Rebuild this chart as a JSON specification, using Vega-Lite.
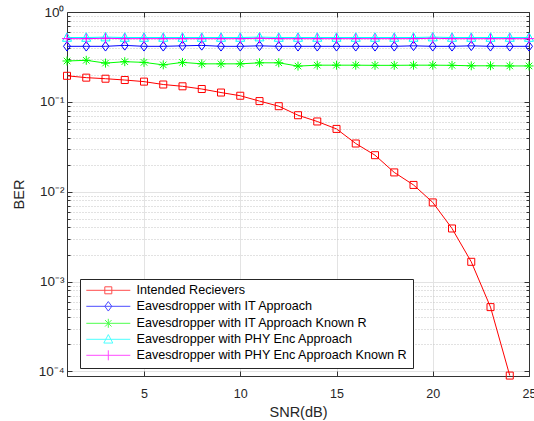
{
  "$schema": "https://vega.github.io/schema/vega-lite/v6.json",
  "width": 462,
  "height": 364,
  "autosize": "none",
  "padding": {"left": 67, "top": 12, "right": 5, "bottom": 45},
  "background": "white",
  "config": {
    "font": "Liberation Sans",
    "view": {"stroke": null},
    "axis": {"domainColor": "#333333", "tickColor": "#333333", "labelColor": "#262626", "titleColor": "#262626", "labelFontSize": 12.5, "titleFontSize": 14.5, "titleFontWeight": "normal", "tickWidth": 1, "domainWidth": 1}
  },
  "data": {
    "values": [
      {"snr": 1, "ber": 0.195, "series": "Intended Recievers"},
      {"snr": 2, "ber": 0.186, "series": "Intended Recievers"},
      {"snr": 3, "ber": 0.181, "series": "Intended Recievers"},
      {"snr": 4, "ber": 0.175, "series": "Intended Recievers"},
      {"snr": 5, "ber": 0.168, "series": "Intended Recievers"},
      {"snr": 6, "ber": 0.156, "series": "Intended Recievers"},
      {"snr": 7, "ber": 0.149, "series": "Intended Recievers"},
      {"snr": 8, "ber": 0.139, "series": "Intended Recievers"},
      {"snr": 9, "ber": 0.127, "series": "Intended Recievers"},
      {"snr": 10, "ber": 0.117, "series": "Intended Recievers"},
      {"snr": 11, "ber": 0.102, "series": "Intended Recievers"},
      {"snr": 12, "ber": 0.0895, "series": "Intended Recievers"},
      {"snr": 13, "ber": 0.071, "series": "Intended Recievers"},
      {"snr": 14, "ber": 0.0605, "series": "Intended Recievers"},
      {"snr": 15, "ber": 0.05, "series": "Intended Recievers"},
      {"snr": 16, "ber": 0.0344, "series": "Intended Recievers"},
      {"snr": 17, "ber": 0.0255, "series": "Intended Recievers"},
      {"snr": 18, "ber": 0.0164, "series": "Intended Recievers"},
      {"snr": 19, "ber": 0.0119, "series": "Intended Recievers"},
      {"snr": 20, "ber": 0.0076, "series": "Intended Recievers"},
      {"snr": 21, "ber": 0.0039, "series": "Intended Recievers"},
      {"snr": 22, "ber": 0.00166, "series": "Intended Recievers"},
      {"snr": 23, "ber": 0.00052, "series": "Intended Recievers"},
      {"snr": 24, "ber": 0.00009, "series": "Intended Recievers"},
      {"snr": 1, "ber": 0.415, "series": "Eavesdropper with IT Approach"},
      {"snr": 2, "ber": 0.415, "series": "Eavesdropper with IT Approach"},
      {"snr": 3, "ber": 0.415, "series": "Eavesdropper with IT Approach"},
      {"snr": 4, "ber": 0.425, "series": "Eavesdropper with IT Approach"},
      {"snr": 5, "ber": 0.415, "series": "Eavesdropper with IT Approach"},
      {"snr": 6, "ber": 0.415, "series": "Eavesdropper with IT Approach"},
      {"snr": 7, "ber": 0.42, "series": "Eavesdropper with IT Approach"},
      {"snr": 8, "ber": 0.425, "series": "Eavesdropper with IT Approach"},
      {"snr": 9, "ber": 0.415, "series": "Eavesdropper with IT Approach"},
      {"snr": 10, "ber": 0.415, "series": "Eavesdropper with IT Approach"},
      {"snr": 11, "ber": 0.42, "series": "Eavesdropper with IT Approach"},
      {"snr": 12, "ber": 0.415, "series": "Eavesdropper with IT Approach"},
      {"snr": 13, "ber": 0.415, "series": "Eavesdropper with IT Approach"},
      {"snr": 14, "ber": 0.415, "series": "Eavesdropper with IT Approach"},
      {"snr": 15, "ber": 0.415, "series": "Eavesdropper with IT Approach"},
      {"snr": 16, "ber": 0.415, "series": "Eavesdropper with IT Approach"},
      {"snr": 17, "ber": 0.415, "series": "Eavesdropper with IT Approach"},
      {"snr": 18, "ber": 0.415, "series": "Eavesdropper with IT Approach"},
      {"snr": 19, "ber": 0.42, "series": "Eavesdropper with IT Approach"},
      {"snr": 20, "ber": 0.415, "series": "Eavesdropper with IT Approach"},
      {"snr": 21, "ber": 0.415, "series": "Eavesdropper with IT Approach"},
      {"snr": 22, "ber": 0.42, "series": "Eavesdropper with IT Approach"},
      {"snr": 23, "ber": 0.415, "series": "Eavesdropper with IT Approach"},
      {"snr": 24, "ber": 0.415, "series": "Eavesdropper with IT Approach"},
      {"snr": 25, "ber": 0.415, "series": "Eavesdropper with IT Approach"},
      {"snr": 1, "ber": 0.285, "series": "Eavesdropper with IT Approach Known R"},
      {"snr": 2, "ber": 0.29, "series": "Eavesdropper with IT Approach Known R"},
      {"snr": 3, "ber": 0.27, "series": "Eavesdropper with IT Approach Known R"},
      {"snr": 4, "ber": 0.28, "series": "Eavesdropper with IT Approach Known R"},
      {"snr": 5, "ber": 0.275, "series": "Eavesdropper with IT Approach Known R"},
      {"snr": 6, "ber": 0.258, "series": "Eavesdropper with IT Approach Known R"},
      {"snr": 7, "ber": 0.275, "series": "Eavesdropper with IT Approach Known R"},
      {"snr": 8, "ber": 0.265, "series": "Eavesdropper with IT Approach Known R"},
      {"snr": 9, "ber": 0.265, "series": "Eavesdropper with IT Approach Known R"},
      {"snr": 10, "ber": 0.265, "series": "Eavesdropper with IT Approach Known R"},
      {"snr": 11, "ber": 0.272, "series": "Eavesdropper with IT Approach Known R"},
      {"snr": 12, "ber": 0.272, "series": "Eavesdropper with IT Approach Known R"},
      {"snr": 13, "ber": 0.25, "series": "Eavesdropper with IT Approach Known R"},
      {"snr": 14, "ber": 0.256, "series": "Eavesdropper with IT Approach Known R"},
      {"snr": 15, "ber": 0.256, "series": "Eavesdropper with IT Approach Known R"},
      {"snr": 16, "ber": 0.256, "series": "Eavesdropper with IT Approach Known R"},
      {"snr": 17, "ber": 0.255, "series": "Eavesdropper with IT Approach Known R"},
      {"snr": 18, "ber": 0.255, "series": "Eavesdropper with IT Approach Known R"},
      {"snr": 19, "ber": 0.256, "series": "Eavesdropper with IT Approach Known R"},
      {"snr": 20, "ber": 0.256, "series": "Eavesdropper with IT Approach Known R"},
      {"snr": 21, "ber": 0.255, "series": "Eavesdropper with IT Approach Known R"},
      {"snr": 22, "ber": 0.252, "series": "Eavesdropper with IT Approach Known R"},
      {"snr": 23, "ber": 0.252, "series": "Eavesdropper with IT Approach Known R"},
      {"snr": 24, "ber": 0.251, "series": "Eavesdropper with IT Approach Known R"},
      {"snr": 25, "ber": 0.251, "series": "Eavesdropper with IT Approach Known R"},
      {"snr": 1, "ber": 0.52, "series": "Eavesdropper with PHY Enc Approach"},
      {"snr": 2, "ber": 0.52, "series": "Eavesdropper with PHY Enc Approach"},
      {"snr": 3, "ber": 0.525, "series": "Eavesdropper with PHY Enc Approach"},
      {"snr": 4, "ber": 0.52, "series": "Eavesdropper with PHY Enc Approach"},
      {"snr": 5, "ber": 0.52, "series": "Eavesdropper with PHY Enc Approach"},
      {"snr": 6, "ber": 0.52, "series": "Eavesdropper with PHY Enc Approach"},
      {"snr": 7, "ber": 0.52, "series": "Eavesdropper with PHY Enc Approach"},
      {"snr": 8, "ber": 0.52, "series": "Eavesdropper with PHY Enc Approach"},
      {"snr": 9, "ber": 0.52, "series": "Eavesdropper with PHY Enc Approach"},
      {"snr": 10, "ber": 0.52, "series": "Eavesdropper with PHY Enc Approach"},
      {"snr": 11, "ber": 0.525, "series": "Eavesdropper with PHY Enc Approach"},
      {"snr": 12, "ber": 0.52, "series": "Eavesdropper with PHY Enc Approach"},
      {"snr": 13, "ber": 0.52, "series": "Eavesdropper with PHY Enc Approach"},
      {"snr": 14, "ber": 0.52, "series": "Eavesdropper with PHY Enc Approach"},
      {"snr": 15, "ber": 0.52, "series": "Eavesdropper with PHY Enc Approach"},
      {"snr": 16, "ber": 0.52, "series": "Eavesdropper with PHY Enc Approach"},
      {"snr": 17, "ber": 0.52, "series": "Eavesdropper with PHY Enc Approach"},
      {"snr": 18, "ber": 0.52, "series": "Eavesdropper with PHY Enc Approach"},
      {"snr": 19, "ber": 0.52, "series": "Eavesdropper with PHY Enc Approach"},
      {"snr": 20, "ber": 0.525, "series": "Eavesdropper with PHY Enc Approach"},
      {"snr": 21, "ber": 0.52, "series": "Eavesdropper with PHY Enc Approach"},
      {"snr": 22, "ber": 0.52, "series": "Eavesdropper with PHY Enc Approach"},
      {"snr": 23, "ber": 0.52, "series": "Eavesdropper with PHY Enc Approach"},
      {"snr": 24, "ber": 0.52, "series": "Eavesdropper with PHY Enc Approach"},
      {"snr": 25, "ber": 0.52, "series": "Eavesdropper with PHY Enc Approach"},
      {"snr": 1, "ber": 0.505, "series": "Eavesdropper with PHY Enc Approach Known R"},
      {"snr": 2, "ber": 0.505, "series": "Eavesdropper with PHY Enc Approach Known R"},
      {"snr": 3, "ber": 0.51, "series": "Eavesdropper with PHY Enc Approach Known R"},
      {"snr": 4, "ber": 0.505, "series": "Eavesdropper with PHY Enc Approach Known R"},
      {"snr": 5, "ber": 0.505, "series": "Eavesdropper with PHY Enc Approach Known R"},
      {"snr": 6, "ber": 0.505, "series": "Eavesdropper with PHY Enc Approach Known R"},
      {"snr": 7, "ber": 0.505, "series": "Eavesdropper with PHY Enc Approach Known R"},
      {"snr": 8, "ber": 0.505, "series": "Eavesdropper with PHY Enc Approach Known R"},
      {"snr": 9, "ber": 0.505, "series": "Eavesdropper with PHY Enc Approach Known R"},
      {"snr": 10, "ber": 0.505, "series": "Eavesdropper with PHY Enc Approach Known R"},
      {"snr": 11, "ber": 0.51, "series": "Eavesdropper with PHY Enc Approach Known R"},
      {"snr": 12, "ber": 0.505, "series": "Eavesdropper with PHY Enc Approach Known R"},
      {"snr": 13, "ber": 0.505, "series": "Eavesdropper with PHY Enc Approach Known R"},
      {"snr": 14, "ber": 0.505, "series": "Eavesdropper with PHY Enc Approach Known R"},
      {"snr": 15, "ber": 0.505, "series": "Eavesdropper with PHY Enc Approach Known R"},
      {"snr": 16, "ber": 0.505, "series": "Eavesdropper with PHY Enc Approach Known R"},
      {"snr": 17, "ber": 0.505, "series": "Eavesdropper with PHY Enc Approach Known R"},
      {"snr": 18, "ber": 0.505, "series": "Eavesdropper with PHY Enc Approach Known R"},
      {"snr": 19, "ber": 0.505, "series": "Eavesdropper with PHY Enc Approach Known R"},
      {"snr": 20, "ber": 0.51, "series": "Eavesdropper with PHY Enc Approach Known R"},
      {"snr": 21, "ber": 0.505, "series": "Eavesdropper with PHY Enc Approach Known R"},
      {"snr": 22, "ber": 0.505, "series": "Eavesdropper with PHY Enc Approach Known R"},
      {"snr": 23, "ber": 0.505, "series": "Eavesdropper with PHY Enc Approach Known R"},
      {"snr": 24, "ber": 0.505, "series": "Eavesdropper with PHY Enc Approach Known R"},
      {"snr": 25, "ber": 0.505, "series": "Eavesdropper with PHY Enc Approach Known R"}
    ]
  },
  "layer": [
    {
      "mark": {"type": "line", "strokeWidth": 1},
      "encoding": {
        "x": {
          "field": "snr", "type": "quantitative",
          "scale": {"domain": [1, 25], "nice": false, "zero": false},
          "axis": {"values": [5, 10, 15, 20, 25], "title": "SNR(dB)", "tickSize": -5, "labelPadding": 16, "grid": true, "gridColor": "#e3e3e3", "labelFlush": false, "titleX": 231, "titleY": 40, "titleBaseline": "alphabetic", "titleAlign": "center"}
        },
        "y": {
          "field": "ber", "type": "quantitative",
          "scale": {"type": "log", "domain": [0.000089, 1], "nice": false},
          "axis": {
            "values": [0.00009, 0.0001, 0.0002, 0.0003, 0.0004, 0.0005, 0.0006, 0.0007, 0.0008, 0.0009, 0.001, 0.002, 0.003, 0.004, 0.005, 0.006, 0.007, 0.008, 0.009, 0.01, 0.02, 0.03, 0.04, 0.05, 0.06, 0.07, 0.08, 0.09, 0.1, 0.2, 0.3, 0.4, 0.5, 0.6, 0.7, 0.8, 0.9, 1],
            "labelExpr": "datum.value == 1 ? '10⁰' : datum.value == 0.1 ? '10⁻¹' : datum.value == 0.01 ? '10⁻²' : datum.value == 0.001 ? '10⁻³' : datum.value == 0.0001 ? '10⁻⁴' : ''",
            "title": "BER", "labelPadding": 8, "labelFlush": false, "labelOverlap": false, "labelFontSize": 13.5,
            "tickSize": {"condition": {"test": "indexof([1,0.1,0.01,0.001,0.0001], datum.value) < 0", "value": -3}, "value": -5},
            "grid": true,
            "gridColor": {"condition": {"test": "indexof([1,0.1,0.01,0.001,0.0001], datum.value) < 0", "value": "#c4c4c4"}, "value": "#e3e3e3"},
            "gridDash": {"condition": {"test": "indexof([1,0.1,0.01,0.001,0.0001], datum.value) < 0", "value": [1, 2]}, "value": []},
            "titleX": -48, "titleY": 182, "titleAlign": "center", "titleBaseline": "middle"
          }
        },
        "color": {
          "field": "series", "type": "nominal",
          "scale": {"domain": ["Intended Recievers", "Eavesdropper with IT Approach", "Eavesdropper with IT Approach Known R", "Eavesdropper with PHY Enc Approach", "Eavesdropper with PHY Enc Approach Known R"], "range": ["#ff0000", "#0000ff", "#00ff00", "#00ffff", "#ff00ff"]},
          "legend": null
        },
        "strokeWidth": {"condition": {"test": "datum.series == 'Eavesdropper with IT Approach'", "value": 1.5}, "value": 1}
      }
    },
    {
      "mark": {"type": "point", "filled": false, "size": 100, "strokeWidth": 1, "opacity": 1},
      "encoding": {
        "x": {"field": "snr", "type": "quantitative", "axis": null},
        "y": {"field": "ber", "type": "quantitative", "axis": null},
        "color": {
          "field": "series", "type": "nominal",
          "scale": {"domain": ["Intended Recievers", "Eavesdropper with IT Approach", "Eavesdropper with IT Approach Known R", "Eavesdropper with PHY Enc Approach", "Eavesdropper with PHY Enc Approach Known R"], "range": ["#ff0000", "#0000ff", "#00ff00", "#00ffff", "#ff00ff"]},
          "legend": null
        },
        "shape": {
          "field": "series", "type": "nominal",
          "scale": {"domain": ["Intended Recievers", "Eavesdropper with IT Approach", "Eavesdropper with IT Approach Known R", "Eavesdropper with PHY Enc Approach", "Eavesdropper with PHY Enc Approach Known R"], "range": ["M-0.7,-0.7H0.7V0.7H-0.7Z", "M0,-0.95L0.7,0L0,0.95L-0.7,0Z", "M-0.9,0H0.9M0,-0.9V0.9M-0.65,-0.65L0.65,0.65M-0.65,0.65L0.65,-0.65", "M0,-0.95L0.9,0.75H-0.9Z", "M-1,0H1M0,-1V1"]},
          "legend": null
        }
      }
    },
    {
      "transform": [{"filter": "datum.snr < 0"}],
      "mark": {"type": "point", "filled": false, "size": 100, "strokeWidth": 1},
      "encoding": {
        "x": {"field": "snr", "type": "quantitative", "axis": {"orient": "top", "labels": false, "title": null, "grid": false, "tickSize": -5, "values": [5, 10, 15, 20, 25]}},
        "y": {"field": "ber", "type": "quantitative", "axis": {
          "orient": "right", "labels": false, "title": null, "grid": false,
          "values": [0.00009, 0.0001, 0.0002, 0.0003, 0.0004, 0.0005, 0.0006, 0.0007, 0.0008, 0.0009, 0.001, 0.002, 0.003, 0.004, 0.005, 0.006, 0.007, 0.008, 0.009, 0.01, 0.02, 0.03, 0.04, 0.05, 0.06, 0.07, 0.08, 0.09, 0.1, 0.2, 0.3, 0.4, 0.5, 0.6, 0.7, 0.8, 0.9, 1],
          "tickSize": {"condition": {"test": "indexof([1,0.1,0.01,0.001,0.0001], datum.value) < 0", "value": -3}, "value": -5}
        }},
        "color": {
          "field": "series", "type": "nominal",
          "scale": {"domain": ["Intended Recievers", "Eavesdropper with IT Approach", "Eavesdropper with IT Approach Known R", "Eavesdropper with PHY Enc Approach", "Eavesdropper with PHY Enc Approach Known R"], "range": ["#ff0000", "#0000ff", "#00ff00", "#00ffff", "#ff00ff"]},
          "legend": {"orient": "none", "legendX": 13, "legendY": 267, "title": null, "padding": 5, "strokeColor": "#262626", "fillColor": "white", "labelFontSize": 12.6, "labelColor": "#000000", "symbolSize": 100, "symbolStrokeWidth": 1, "symbolOffset": 17, "labelOffset": 22, "rowPadding": 2, "labelLimit": 400}
        },
        "shape": {
          "field": "series", "type": "nominal",
          "scale": {"domain": ["Intended Recievers", "Eavesdropper with IT Approach", "Eavesdropper with IT Approach Known R", "Eavesdropper with PHY Enc Approach", "Eavesdropper with PHY Enc Approach Known R"], "range": ["M-4.4,0H4.4M-0.7,-0.7H0.7V0.7H-0.7Z", "M-4.4,0H4.4M0,-0.95L0.7,0L0,0.95L-0.7,0Z", "M-4.4,0H4.4M0,-0.9V0.9M-0.65,-0.65L0.65,0.65M-0.65,0.65L0.65,-0.65", "M-4.4,0H4.4M0,-0.95L0.9,0.75H-0.9Z", "M-4.4,0H4.4M0,-1V1"]},
          "legend": {"orient": "none", "legendX": 13, "legendY": 267, "title": null, "padding": 5, "strokeColor": "#262626", "fillColor": "white", "labelFontSize": 12.6, "labelColor": "#000000", "symbolSize": 100, "symbolStrokeWidth": 1, "symbolOffset": 17, "labelOffset": 22, "rowPadding": 2, "labelLimit": 400}
        }
      }
    }
  ],
  "resolve": {"scale": {"color": "independent", "shape": "independent"}, "axis": {"x": "independent", "y": "independent"}}
}
